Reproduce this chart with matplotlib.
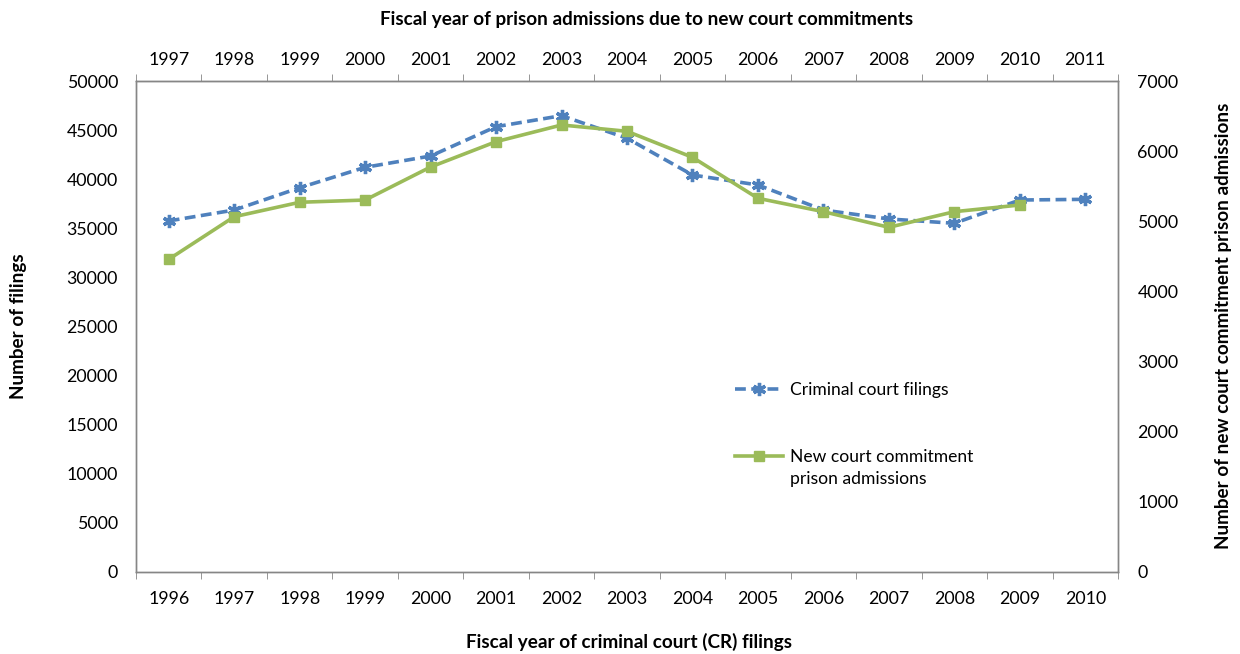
import matplotlib
matplotlib.use("Agg")
import matplotlib.pyplot as plt
from matplotlib.ticker import FixedLocator, NullFormatter

plt.rcParams['font.family'] = ['Lato', 'DejaVu Sans']

court_years = ['1996', '1997', '1998', '1999', '2000', '2001', '2002', '2003',
               '2004', '2005', '2006', '2007', '2008', '2009', '2010']
admission_years = ['1997', '1998', '1999', '2000', '2001', '2002', '2003', '2004',
                   '2005', '2006', '2007', '2008', '2009', '2010', '2011']
filings = [35750, 36860, 39130, 41210, 42360, 45350, 46470, 44170,
           40430, 39410, 36860, 35950, 35510, 37880, 37950]
admissions = [4458, 5065, 5271, 5303, 5774, 6135, 6373, 6283,
              5912, 5328, 5137, 4914, 5137, 5232]

BLUE = '#4F81BD'
GREEN = '#9BBB59'
GRAY = '#868686'
FS = 12.8
FSB = 13.6
FSL = 12.6

fig = plt.figure(figsize=(12.4, 6.54), dpi=100)
ax = fig.add_axes([136/1240, 1 - 572/654, (1118 - 136)/1240, (572 - 81)/654])
ax2 = ax.twinx()

x = list(range(len(court_years)))
l1, = ax.plot(x, filings, color=BLUE, linestyle=(0, (3.0, 1.5)), linewidth=2.6,
              marker=(6, 2, 0), markersize=9.5, markeredgewidth=2.4,
              markeredgecolor=BLUE, label='Criminal court filings', zorder=3)
l2, = ax2.plot(x[:len(admissions)], admissions, color=GREEN, linewidth=2.6,
               marker='s', markersize=7.5, markeredgecolor=GREEN,
               label='New court commitment', zorder=3)

ax.set_xlim(-0.5, len(court_years) - 0.5)
ax.set_ylim(0, 50000)
ax2.set_ylim(0, 7000)
ax.set_yticks(range(0, 50001, 5000))
ax2.set_yticks(range(0, 7001, 1000))

for a in (ax, ax2):
    for s in a.spines.values():
        s.set_color(GRAY)
        s.set_linewidth(1.0)

ax.tick_params(axis='y', length=0, labelsize=FS, pad=13)
ax2.tick_params(axis='y', length=0, labelsize=FS, pad=14)

# bottom axis: labels at centres, ticks at boundaries
ax.set_xticks(x)
ax.set_xticklabels(court_years, fontsize=FS)
ax.tick_params(axis='x', which='major', length=0, pad=13.5)
ax.xaxis.set_minor_locator(FixedLocator([i - 0.5 for i in range(len(court_years) + 1)]))
ax.xaxis.set_minor_formatter(NullFormatter())
ax.tick_params(axis='x', which='minor', length=5, color=GRAY, direction='out')

# top axis
top = ax.secondary_xaxis('top')
top.set_xticks(x)
top.set_xticklabels(admission_years, fontsize=FS)
top.tick_params(axis='x', which='major', length=0, pad=9.5)
top.xaxis.set_minor_locator(FixedLocator([i - 0.5 for i in range(len(court_years) + 1)]))
top.xaxis.set_minor_formatter(NullFormatter())
top.tick_params(axis='x', which='minor', length=5, color=GRAY, direction='out')
top.spines['top'].set_color(GRAY)

fig.text(647/1240, 1 - 20/654, 'Fiscal year of prison admissions due to new court commitments',
         ha='center', va='center', fontsize=FSB, fontweight='bold')
fig.text(629/1240, 1 - 642/654, 'Fiscal year of criminal court (CR) filings',
         ha='center', va='center', fontsize=FSB, fontweight='bold')
fig.text(19/1240, 1 - 326/654, 'Number of filings', rotation=90,
         ha='center', va='center', fontsize=FSB, fontweight='bold')
fig.text(1224/1240, 1 - 326/654, 'Number of new court commitment prison admissions', rotation=90,
         ha='center', va='center', fontsize=FSB, fontweight='bold')

em = FSL * 100 / 72
leg = ax.legend(handles=[l1, l2], loc='upper left',
                bbox_to_anchor=((735 - 136)/982, (572 - 382)/491),
                frameon=False, fontsize=FSL, handlelength=48/em, labelspacing=2.93,
                handletextpad=7/em, borderaxespad=0, borderpad=0)
ax.text((790 - 136)/982, (572 - 479)/491, 'prison admissions', transform=ax.transAxes,
        ha='left', va='center', fontsize=FSL)

fig.savefig('out.png', dpi=100)
